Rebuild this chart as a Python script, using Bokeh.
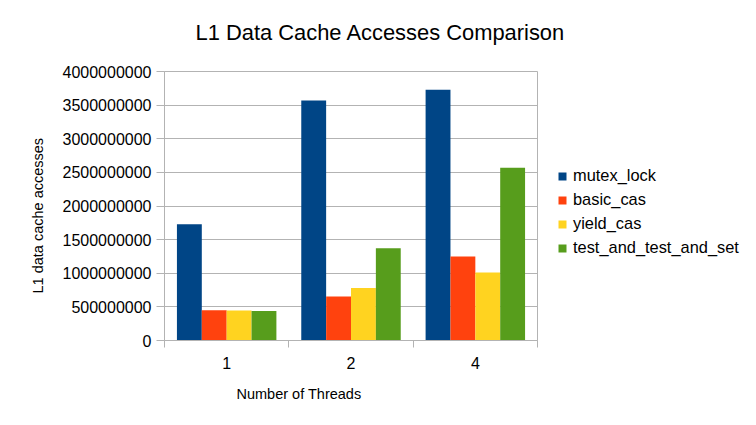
from bokeh.plotting import figure
from bokeh.models import (Range1d, FixedTicker, NumeralTickFormatter, Legend, LegendItem, Title)
from bokeh.embed import file_html
from bokeh.resources import INLINE

threads = ["1", "2", "4"]
series_names = ["mutex_lock", "basic_cas", "yield_cas", "test_and_test_and_set"]
mutex_lock = [1730000000, 3570000000, 3730000000]
basic_cas = [450000000, 655000000, 1250000000]
yield_cas = [445000000, 780000000, 1010000000]
test_and_test_and_set = [440000000, 1370000000, 2570000000]
y_ticks = [0, 500000000, 1000000000, 1500000000, 2000000000, 2500000000,
           3000000000, 3500000000, 4000000000]
colors = ["#004586", "#ff420e", "#ffd320", "#579d1c"]

FONT = "Liberation Sans"
GRID = "#b3b3b3"

p = figure(frame_width=373, frame_height=269, output_backend="svg", toolbar_location=None,
           x_range=Range1d(0, len(threads)), y_range=Range1d(0, 4000000000),
           min_border_left=164, min_border_top=71, min_border_right=211,
           min_border_bottom=77)
p.background_fill_color = "white"
p.border_fill_color = "white"
p.outline_line_color = GRID

# spacer between the frame and the title
p.add_layout(Title(text=" ", text_font_size="1px", standoff=24), "above")

p.title.text = "L1 Data Cache Accesses Comparison"
p.title.align = "left"
p.title.text_font = FONT
p.title.text_font_size = "21.9px"
p.title.text_font_style = "normal"
p.title.text_color = "#000000"
p.title.standoff = 0
p.title.offset = 31

all_series = [mutex_lock, basic_cas, yield_cas, test_and_test_and_set]
bar_w = 0.2
items = []
for k, (name, vals, col) in enumerate(zip(series_names, all_series, colors)):
    xs = [i + 0.5 + (k - 1.5) * bar_w for i in range(len(threads))]
    r = p.vbar(x=xs, top=vals, width=bar_w, bottom=0, fill_color=col, line_color=None)
    items.append(LegendItem(label=name, renderers=[r]))

# x axis: labels at category centres, tick marks at boundaries
xa = p.xaxis[0]
xa.ticker = FixedTicker(ticks=[i + 0.5 for i in range(len(threads))],
                        minor_ticks=list(range(len(threads) + 1)))
xa.major_label_overrides = {i + 0.5: t for i, t in enumerate(threads)}
xa.major_tick_out = 0
xa.major_tick_in = 0
xa.minor_tick_out = 7
xa.minor_tick_in = 0
xa.minor_tick_line_color = GRID
xa.axis_line_color = GRID
xa.major_label_standoff = 9
xa.major_label_text_font = FONT
xa.major_label_text_font_size = "16px"
xa.major_label_text_color = "#000000"

ya = p.yaxis[0]
ya.ticker = FixedTicker(ticks=y_ticks)
ya.formatter = NumeralTickFormatter(format="0")
ya.major_tick_out = 8
ya.major_tick_in = 0
ya.minor_tick_out = 0
ya.minor_tick_in = 0
ya.major_tick_line_color = GRID
ya.axis_line_color = GRID
ya.major_label_standoff = 5
ya.major_label_text_font = FONT
ya.major_label_text_font_size = "16px"
ya.major_label_text_color = "#000000"

p.xgrid.grid_line_color = None
p.ygrid.grid_line_color = GRID
p.ygrid.ticker = FixedTicker(ticks=y_ticks)

ylab = Title(text="L1 data cache accesses", align="left", text_font=FONT,
             text_font_size="14.5px", text_font_style="normal", text_color="#000000",
             standoff=27, offset=47)
p.add_layout(ylab, "left")
xlab = Title(text="Number of Threads", align="left", text_font=FONT,
             text_font_size="14.5px", text_font_style="normal", text_color="#000000",
             standoff=24, offset=72)
p.add_layout(xlab, "below")

legend = Legend(items=items, location=(20, 83), border_line_color=None,
                background_fill_alpha=0, padding=0, margin=0, spacing=5,
                glyph_width=10, glyph_height=10, label_standoff=6,
                label_text_font=FONT, label_text_font_size="16.4px",
                label_text_color="#000000")
p.add_layout(legend, "right")

open("out.html", "w").write(file_html(p, INLINE))
